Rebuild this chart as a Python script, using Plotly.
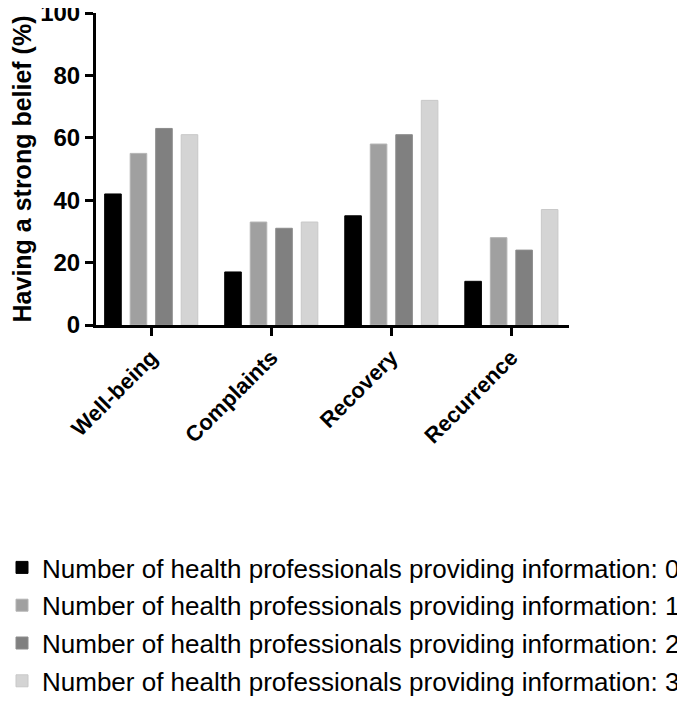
import plotly.graph_objects as go

# data
categories = ["Well-being", "Complaints", "Recovery", "Recurrence"]
series_names = [
    "Number of health professionals providing information: 0",
    "Number of health professionals providing information: 1",
    "Number of health professionals providing information: 2",
    "Number of health professionals providing information: 3",
]
values_0 = [42, 17, 35, 14]
values_1 = [55, 33, 58, 28]
values_2 = [63, 31, 61, 24]
values_3 = [61, 33, 72, 37]
y_ticks = [0, 20, 40, 60, 80, 100]

all_values = [values_0, values_1, values_2, values_3]
fill_colors = ["#000000", "#a0a0a0", "#808080", "#d4d4d4"]
edge_colors = ["#000000", "#b4b4b4", "#8c8c8c", "#c8c8c8"]

FONT = "Liberation Sans, Arial, sans-serif"

# the page body has an 8px margin, so the figure is drawn 8px smaller
W, H = 677, 700
L, R, T, B = 88, 116, 5, 383
plot_w = W - L - R
plot_h = H - T - B

fig = go.Figure()
for name, vals, fc, ec in zip(series_names, all_values, fill_colors, edge_colors):
    fig.add_trace(go.Bar(
        x=categories, y=vals, name=name, legendgroup=name,
        marker=dict(color=fc, line=dict(color=ec, width=1)),
    ))

fig.update_layout(
    width=W, height=H,
    margin=dict(l=L, r=R, t=T, b=B, autoexpand=False),
    paper_bgcolor="white", plot_bgcolor="white",
    barmode="group", bargap=0.15, bargroupgap=0.35,
    font=dict(family=FONT, color="black"),
    showlegend=True,
    legend=dict(
        x=-(L + 6) / plot_w, y=-(536 - (H - B)) / plot_h,
        xanchor="left", yanchor="top",
        font=dict(size=26, family=FONT, color="black"),
        tracegroupgap=1, itemwidth=30,
        bgcolor="rgba(0,0,0,0)",
    ),
)

fig.update_xaxes(
    range=[-0.46, 3.48],
    showline=True, linecolor="black", linewidth=3,
    ticks="outside", ticklen=8, tickwidth=2.5, tickcolor="black",
    tickangle=-45,
    tickfont=dict(size=22, family=FONT, weight="bold"),
    showgrid=False, zeroline=False,
)
fig.update_yaxes(
    range=[0, 100],
    tickvals=y_ticks,
    ticklabeloverflow="allow",
    showline=True, linecolor="black", linewidth=3,
    ticks="outside", ticklen=8, tickwidth=2.5, tickcolor="black",
    tickfont=dict(size=24, family=FONT, weight="bold"),
    title=dict(text="Having a strong belief (%)",
               font=dict(size=25, family=FONT, weight="bold")),
    showgrid=False, zeroline=False,
)

fig.write_html("out.html")
